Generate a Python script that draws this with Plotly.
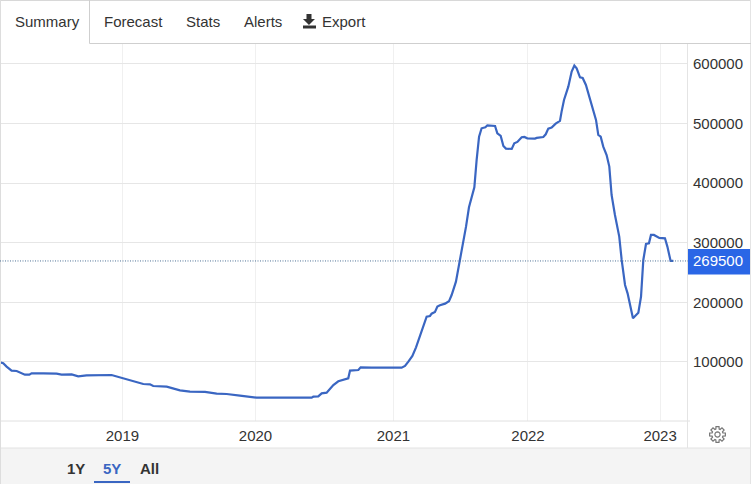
import math
import plotly.graph_objects as go

W, H = 751, 484

years = [2018.089, 2018.113, 2018.138, 2018.175, 2018.213, 2018.237, 2018.274, 2018.307, 2018.324, 2018.411,
         2018.51, 2018.547, 2018.622, 2018.671, 2018.733, 2018.919, 2019.006, 2019.081, 2019.155, 2019.205,
         2019.229, 2019.329, 2019.428, 2019.502, 2019.614, 2019.701, 2019.775, 2019.874, 2019.998, 2020.407,
         2020.42, 2020.457, 2020.482, 2020.519, 2020.569, 2020.606, 2020.643, 2020.68, 2020.693, 2020.755,
         2020.772, 2020.854, 2021.077, 2021.102, 2021.127, 2021.157, 2021.184, 2021.214, 2021.238, 2021.263,
         2021.288, 2021.300, 2021.325, 2021.343, 2021.362, 2021.40, 2021.429, 2021.449, 2021.481, 2021.506,
         2021.536, 2021.556, 2021.578, 2021.598, 2021.618, 2021.635, 2021.653, 2021.672, 2021.70, 2021.715,
         2021.772, 2021.789, 2021.814, 2021.834, 2021.853, 2021.896, 2021.915, 2021.938, 2021.97, 2021.99,
         2022.012, 2022.069, 2022.082, 2022.131, 2022.149, 2022.168, 2022.193, 2022.223, 2022.255, 2022.267,
         2022.285, 2022.317, 2022.342, 2022.362, 2022.379, 2022.404, 2022.424, 2022.448, 2022.478, 2022.503,
         2022.523, 2022.540, 2022.558, 2022.577, 2022.602, 2022.622, 2022.639, 2022.664, 2022.696, 2022.714,
         2022.739, 2022.758, 2022.781, 2022.798, 2022.838, 2022.858, 2022.875, 2022.895, 2022.917, 2022.932,
         2022.954, 2022.994, 2023.036, 2023.054, 2023.078, 2023.098]
values = [99400, 97800, 92200, 85500, 84900, 82100, 78700, 78700, 81000, 81000,
          80400, 78700, 79300, 76000, 77600, 78200, 72600, 67000, 63100, 62500,
          59700, 58600, 52500, 50200, 49700, 46900, 46300, 43500, 40200, 40200,
          41800, 42400, 47400, 48500, 61400, 67600, 69800, 72600, 85500, 86600,
          91000, 90500, 90500, 93300, 100600, 110100, 124600, 145300, 162100, 176100,
          177200, 181100, 183900, 192900, 195100, 197900, 201800, 212400, 234800, 265600,
          296300, 327100, 359500, 377400, 393100, 439000, 478100, 492100, 493800, 497100,
          496000, 483700, 479200, 462500, 458000, 457400, 466900, 469200, 477000, 477500,
          475300, 474800, 475900, 477500, 482000, 491500, 493200, 499900, 504400, 520100,
          539600, 562000, 587200, 597200, 592800, 577700, 576600, 564800, 542400, 522900,
          506100, 480900, 478100, 461300, 447300, 427800, 380200, 346700, 310300, 271200,
          229200, 215200, 190100, 173300, 182800, 209700, 271200, 298000, 299100, 313100,
          313100, 308100, 307500, 293600, 269500, 269500]
last_value = 269500

x_tick_vals = [2019, 2019.99, 2021.016, 2022.017, 2023]
x_tick_text = ["2019", "2020", "2021", "2022", "2023"]
y_tick_vals = [100000, 200000, 300000, 400000, 500000, 600000]
tabs = ["Forecast", "Stats", "Alerts", "Export"]
ranges = ["1Y", "5Y", "All"]

FONT = "Liberation Sans, Arial, sans-serif"
TXT = "#333333"
BLUE = "#3a66c2"


def px(x):
    return x / W


def py(y):
    return 1 - y / H


def rect(x0, y0, x1, y1, fill="rgba(0,0,0,0)", line=None, layer="below"):
    return dict(type="rect", xref="paper", yref="paper", x0=px(x0), x1=px(x1), y0=py(y0), y1=py(y1),
                fillcolor=fill, line=dict(color=line or "rgba(0,0,0,0)", width=1 if line else 0), layer=layer)


def seg(x0, y0, x1, y1, color="#dddddd", width=1, layer="above"):
    return dict(type="line", xref="paper", yref="paper", x0=px(x0), x1=px(x1), y0=py(y0), y1=py(y1),
                line=dict(color=color, width=width), layer=layer)


def poly(points, **kw):
    d = "M " + " L ".join(f"{px(a):.5f},{py(b):.5f}" for a, b in points) + " Z"
    return dict(type="path", xref="paper", yref="paper", path=d, **kw)


def label(x, y, text, color=TXT, bold=False, anchor="left", size=15):
    t = f"<b>{text}</b>" if bold else text
    return dict(xref="paper", yref="paper", x=px(x), y=py(y), text=t, showarrow=False, xanchor=anchor,
                yanchor="middle", align="left", font=dict(family=FONT, size=size, color=color),
                borderpad=0, borderwidth=0)


# gear icon outline
gear = []
cx, cy = 717.5, 434.5
for i in range(8):
    a = i * math.pi / 4
    for da, r in [(-0.30, 5.6), (-0.19, 8), (0.19, 8), (0.30, 5.6)]:
        gear.append((cx + r * math.cos(a + da), cy + r * math.sin(a + da)))
hole = [(cx + 2.6 * math.cos(k * math.pi / 8), cy + 2.6 * math.sin(k * math.pi / 8)) for k in range(16)]

shapes = [
    rect(0, 448, 751, 484, fill="#f4f4f4"),
    seg(0, 448, 751, 448, color="#e2e2e2"),
    seg(0, 421, 690, 421, color="#e0e0e0"),
    seg(687.5, 44, 687.5, 448, color="#e4e4e4"),
    seg(0, 0.5, 751, 0.5, color="#d8d8d8"),
    seg(0.5, 0, 0.5, 484, color="#dddddd"),
    seg(750.5, 0, 750.5, 484, color="#e4e4e4"),
    seg(89.5, 0, 89.5, 43.5, color="#cfcfcf"),
    seg(89.5, 43.5, 751, 43.5, color="#cfcfcf"),
    seg(94, 482, 130, 482, color=BLUE, width=2),
    dict(type="line", xref="paper", yref="y", x0=0, x1=px(688), y0=last_value, y1=last_value,
         line=dict(color="#4f7396", width=1, dash="1px,1.5px"), layer="above"),
    rect(688, 249, 750, 274.5, fill="#2a66e6", layer="above"),
    poly([(306.5, 14), (311.5, 14), (311.5, 19), (315, 19), (309, 25), (303, 19), (306.5, 19)],
         fillcolor="#333333", line=dict(width=0)),
    rect(303, 25.5, 316, 28.5, fill="#333333", layer="above"),
    poly(gear, fillcolor="rgba(0,0,0,0)", line=dict(color="#777777", width=1.2)),
    poly(hole, fillcolor="rgba(0,0,0,0)", line=dict(color="#777777", width=1.2)),
]

annotations = [
    label(15, 22, "Summary"),
    label(104, 22, tabs[0]),
    label(186, 22, tabs[1]),
    label(244, 22, tabs[2]),
    label(321.5, 22, tabs[3]),
    label(67, 468, ranges[0], bold=True),
    label(103, 468, ranges[1], bold=True, color=BLUE),
    label(140, 468, ranges[2], bold=True),
    dict(xref="paper", yref="y", x=px(690.5), y=last_value, text=str(last_value), showarrow=False, xanchor="left",
         yanchor="middle", font=dict(family=FONT, size=15, color="#ffffff")),
]

fig = go.Figure(go.Scatter(x=years, y=values, mode="lines", line=dict(color=BLUE, width=2.2), hoverinfo="skip"))
fig.update_layout(
    width=W, height=H, margin=dict(l=0, r=0, t=0, b=0, autoexpand=False),
    paper_bgcolor="#ffffff", plot_bgcolor="#ffffff", showlegend=False,
    font=dict(family=FONT, size=15, color=TXT),
    shapes=shapes, annotations=annotations,
    xaxis=dict(domain=[0, 687 / W], range=[2018.089, 2023.2], tickmode="array", tickvals=x_tick_vals,
               ticktext=x_tick_text, showgrid=True, gridcolor="#f0f0f0", gridwidth=1, zeroline=False, ticks="",
               showline=False, tickfont=dict(family=FONT, size=15, color=TXT), ticklabelstandoff=4),
    yaxis=dict(domain=[1 - 421 / H, 1 - 44 / H], range=[1000, 633500], side="right", tickmode="array",
               tickvals=y_tick_vals, tickformat="d", showgrid=True, gridcolor="#e6e6e6", gridwidth=1, zeroline=False,
               ticks="", showline=False, tickfont=dict(family=FONT, size=15, color=TXT), ticklabelstandoff=5),
)
fig.write_html("out.html", config=dict(displayModeBar=False),
               post_script="document.body.style.margin='0';document.documentElement.style.overflow='hidden';")
